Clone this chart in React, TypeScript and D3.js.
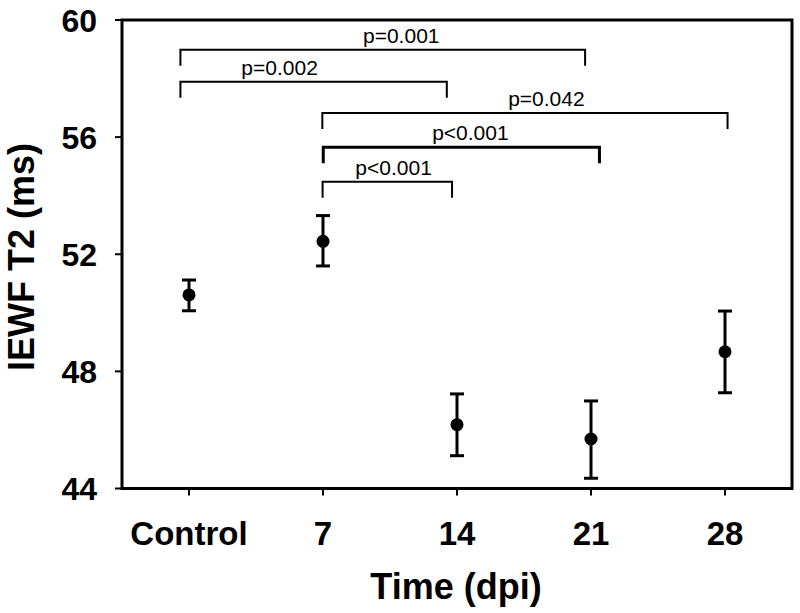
import React from 'react';
import * as d3 from 'd3';

const categories = ['Control', '7', '14', '21', '28'];
const means = [50.61, 52.44, 46.18, 45.69, 48.67];
const upper = [51.12, 53.32, 47.23, 46.99, 50.06];
const lower = [50.07, 51.6, 45.12, 44.35, 47.27];
const yTicks = [44, 48, 52, 56, 60];

const bracketLabels = ['p=0.001', 'p=0.002', 'p=0.042', 'p<0.001', 'p<0.001'];
const bracketLevel = [58.98, 57.89, 56.82, 55.65, 54.48];
const bracketStart = [-0.064, -0.064, 0.995, 1.002, 0.997];
const bracketEnd = [2.956, 1.924, 4.019, 3.063, 1.963];
const bracketLabelPos = [1.584, 0.676, 2.667, 2.1, 1.527];
const bracketBold = [false, false, false, true, false];

const W = 800;
const H = 613;
const left = 122;
const right = 792;
const top = 20;
const bottom = 488.5;

export default function App() {
  const xIdx = d3.scaleLinear().domain([-0.5, categories.length - 0.5]).range([left, right]);
  const x = (i: number) => xIdx(i);
  const y = d3.scaleLinear().domain([44, 60]).range([bottom, top]);
  const font = 'Arial, "Liberation Sans", Helvetica, sans-serif';
  const drop = 16;
  const cap = 7;

  return (
    <svg width={W} height={H} style={{ position: 'absolute', left: 0, top: 0, background: '#fff' }}>
      <rect x={0} y={0} width={W} height={H} fill="#fff" />
      {/* frame */}
      <rect x={left} y={top} width={right - left} height={bottom - top} fill="none" stroke="#000" strokeWidth={3} />
      {/* y ticks */}
      {yTicks.map((t) => (
        <g key={'yt' + t}>
          <line x1={left - 7} x2={left} y1={y(t)} y2={y(t)} stroke="#000" strokeWidth={2} />
          <text x={97} y={y(t)} dy="0.36em" textAnchor="end" fontFamily={font} fontWeight="bold" fontSize={32}>
            {t}
          </text>
        </g>
      ))}
      {/* x ticks */}
      {categories.map((c, i) => (
        <g key={'xt' + c}>
          <line x1={x(i)} x2={x(i)} y1={bottom} y2={bottom + 7} stroke="#000" strokeWidth={2} />
          <text x={x(i)} y={545} textAnchor="middle" fontFamily={font} fontWeight="bold" fontSize={33}>
            {c}
          </text>
        </g>
      ))}
      {/* axis titles */}
      <text x={456} y={599} textAnchor="middle" fontFamily={font} fontWeight="bold" fontSize={36}>
        Time (dpi)
      </text>
      <text
        transform={`translate(34,${257}) rotate(-90)`}
        textAnchor="middle"
        fontFamily={font}
        fontWeight="bold"
        fontSize={36}
      >
        IEWF T2 (ms)
      </text>
      {/* error bars and points */}
      {categories.map((c, i) => (
        <g key={'pt' + c}>
          <line x1={x(i)} x2={x(i)} y1={y(upper[i])} y2={y(lower[i])} stroke="#000" strokeWidth={3} />
          <line x1={x(i) - cap} x2={x(i) + cap} y1={y(upper[i])} y2={y(upper[i])} stroke="#000" strokeWidth={3} />
          <line x1={x(i) - cap} x2={x(i) + cap} y1={y(lower[i])} y2={y(lower[i])} stroke="#000" strokeWidth={3} />
          <circle cx={x(i)} cy={y(means[i])} r={6.5} fill="#000" />
        </g>
      ))}
      {/* significance brackets */}
      {bracketLabels.map((lab, k) => {
        const yy = y(bracketLevel[k]);
        const x1 = xIdx(bracketStart[k]);
        const x2 = xIdx(bracketEnd[k]);
        const path = d3.path();
        path.moveTo(x1, yy + drop);
        path.lineTo(x1, yy);
        path.lineTo(x2, yy);
        path.lineTo(x2, yy + drop);
        return (
          <g key={'br' + k}>
            <path d={path.toString()} fill="none" stroke="#000" strokeWidth={bracketBold[k] ? 3 : 2} />
            <text x={xIdx(bracketLabelPos[k])} y={yy - 7} textAnchor="middle" fontFamily={font} fontSize={21}>
              {lab}
            </text>
          </g>
        );
      })}
    </svg>
  );
}
